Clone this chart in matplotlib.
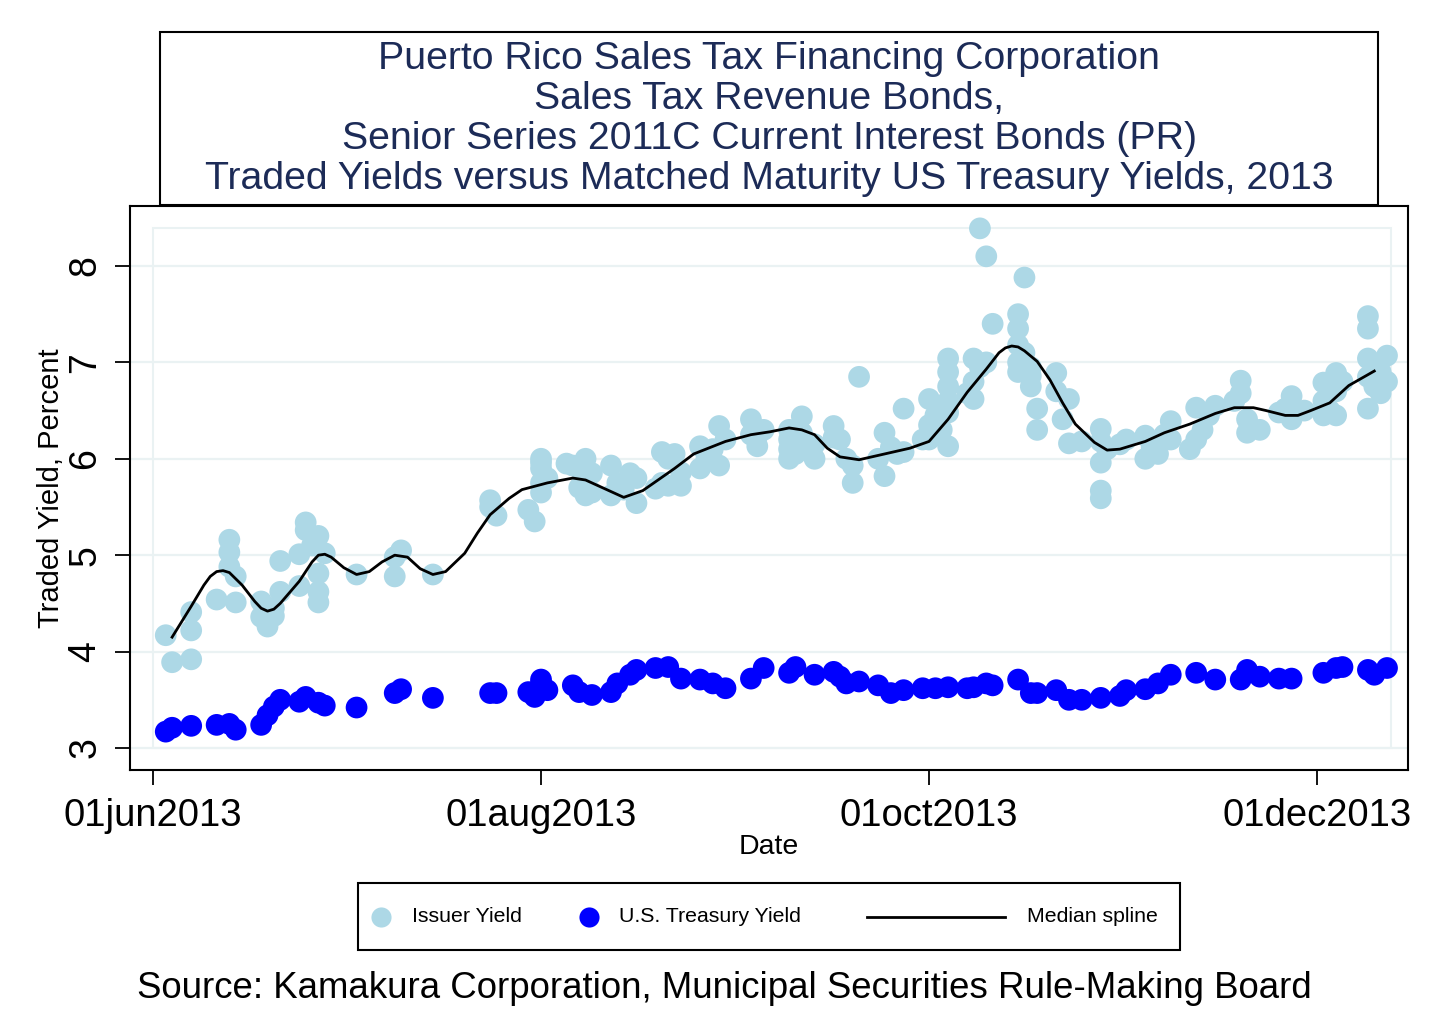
import matplotlib
matplotlib.use('Agg')
import matplotlib.pyplot as plt
import matplotlib.dates as mdates
from matplotlib.patches import Rectangle
from matplotlib.lines import Line2D
import pandas as pd

plt.rcParams['font.family'] = ['Liberation Sans', 'DejaVu Sans']

# issuer traded yields (light blue dots)
issuer_dates = [
    '2013-06-03', '2013-06-04', '2013-06-07', '2013-06-07', '2013-06-07',
    '2013-06-11', '2013-06-13', '2013-06-13', '2013-06-13', '2013-06-14',
    '2013-06-14', '2013-06-18', '2013-06-18', '2013-06-19', '2013-06-20',
    '2013-06-21', '2013-06-21', '2013-06-24', '2013-06-24', '2013-06-25',
    '2013-06-25', '2013-06-27', '2013-06-27', '2013-06-27', '2013-06-27',
    '2013-06-28', '2013-07-03', '2013-07-09', '2013-07-09', '2013-07-10',
    '2013-07-15', '2013-07-24', '2013-07-24', '2013-07-25', '2013-07-30',
    '2013-07-31', '2013-08-01', '2013-08-01', '2013-08-01', '2013-08-01',
    '2013-08-01', '2013-08-06', '2013-08-08', '2013-08-08', '2013-08-09',
    '2013-08-12', '2013-08-13', '2013-08-16', '2013-08-16', '2013-08-19',
    '2013-08-20', '2013-08-21', '2013-08-23', '2013-08-26', '2013-08-27',
    '2013-08-29', '2013-08-29', '2013-09-03', '2013-09-04', '2013-09-04',
    '2013-09-09', '2013-09-09', '2013-09-09', '2013-09-09', '2013-09-11',
    '2013-09-11', '2013-09-13', '2013-09-13', '2013-09-16', '2013-09-17',
    '2013-09-19', '2013-09-19', '2013-09-20', '2013-09-24', '2013-09-24',
    '2013-09-27', '2013-09-27', '2013-09-30', '2013-10-01', '2013-10-01',
    '2013-10-01', '2013-10-04', '2013-10-04', '2013-10-04', '2013-10-04',
    '2013-10-04', '2013-10-04', '2013-10-07', '2013-10-08', '2013-10-08',
    '2013-10-08', '2013-10-09', '2013-10-10', '2013-10-10', '2013-10-11',
    '2013-10-15', '2013-10-15', '2013-10-15', '2013-10-15', '2013-10-15',
    '2013-10-16', '2013-10-17', '2013-10-17', '2013-10-18', '2013-10-18',
    '2013-10-21', '2013-10-22', '2013-10-23', '2013-10-23', '2013-10-25',
    '2013-10-28', '2013-10-28', '2013-10-28', '2013-10-28', '2013-10-28',
    '2013-11-01', '2013-11-04', '2013-11-04', '2013-11-06', '2013-11-08',
    '2013-11-08', '2013-11-11', '2013-11-12', '2013-11-12', '2013-11-15',
    '2013-11-19', '2013-11-19', '2013-11-20', '2013-11-20', '2013-11-25',
    '2013-11-27', '2013-11-27', '2013-12-02', '2013-12-02', '2013-12-02',
    '2013-12-04', '2013-12-04', '2013-12-04', '2013-12-09', '2013-12-09',
    '2013-12-09', '2013-12-09', '2013-12-09', '2013-12-11', '2013-12-12',
    # denser clusters
    '2013-06-20', '2013-06-26', '2013-08-02', '2013-08-05', '2013-08-07',
    '2013-08-07', '2013-08-09', '2013-08-12', '2013-08-14', '2013-08-15',
    '2013-08-20', '2013-08-21', '2013-08-22', '2013-08-23', '2013-08-26',
    '2013-08-28', '2013-08-30', '2013-09-03', '2013-09-05', '2013-09-10',
    '2013-09-12', '2013-09-16', '2013-09-18', '2013-09-23', '2013-09-25',
    '2013-09-26', '2013-10-02', '2013-10-03', '2013-10-03', '2013-10-09',
    '2013-10-16', '2013-10-17', '2013-10-21', '2013-10-29', '2013-10-31',
    '2013-11-05', '2013-11-07', '2013-11-13', '2013-11-14', '2013-11-18',
    '2013-11-22', '2013-11-26', '2013-11-29', '2013-12-03', '2013-12-03',
    '2013-12-05', '2013-12-10', '2013-12-11', '2013-12-12',
]
issuer_yield = [
    4.17, 3.89, 4.22, 4.41, 3.92,
    4.54, 5.16, 5.03, 4.88, 4.78,
    4.51, 4.52, 4.36, 4.26, 4.37,
    4.94, 4.62, 5.01, 4.68, 5.34,
    5.26, 5.20, 4.81, 4.62, 4.51,
    5.02, 4.80, 4.78, 4.98, 5.05,
    4.80, 5.57, 5.50, 5.41, 5.47,
    5.35, 5.96, 6.00, 5.90, 5.75,
    5.65, 5.93, 6.00, 5.62, 5.65,
    5.93, 5.75, 5.80, 5.54, 5.69,
    6.07, 6.00, 5.86, 6.13, 6.00,
    6.34, 5.93, 6.41, 6.13, 6.24,
    6.20, 6.00, 6.10, 6.30, 6.44,
    6.27, 6.00, 6.15, 6.34, 6.20,
    5.75, 5.93, 6.85, 6.27, 5.82,
    6.52, 6.07, 6.20, 6.62, 6.35,
    6.20, 7.04, 6.90, 6.48, 6.13,
    6.60, 6.75, 6.68, 7.04, 6.62,
    6.80, 8.39, 8.10, 7.00, 7.40,
    7.50, 7.35, 7.18, 7.00, 6.90,
    7.88, 6.86, 6.75, 6.52, 6.30,
    6.89, 6.41, 6.62, 6.16, 6.18,
    6.31, 6.18, 5.96, 5.67, 5.59,
    6.20, 6.24, 6.00, 6.05, 6.39,
    6.20, 6.10, 6.53, 6.20, 6.55,
    6.81, 6.68, 6.41, 6.27, 6.48,
    6.65, 6.41, 6.79, 6.45, 6.60,
    6.89, 6.45, 6.70, 7.48, 7.35,
    7.04, 6.52, 6.85, 6.68, 7.07,
    # denser clusters
    4.45, 5.10, 5.80, 5.95, 5.70,
    5.90, 5.85, 5.62, 5.68, 5.85,
    5.75, 5.72, 6.05, 5.72, 5.90,
    6.10, 6.20, 6.25, 6.30, 6.05,
    6.10, 6.22, 6.00, 6.00, 6.12,
    6.05, 6.45, 6.30, 6.55, 6.95,
    7.10, 6.95, 6.70, 6.10, 6.15,
    6.12, 6.25, 6.30, 6.45, 6.60,
    6.30, 6.52, 6.50, 6.70, 6.50,
    6.80, 6.75, 6.90, 6.80,
]

# matched maturity US Treasury yields (blue dots)
treasury_dates = [
    '2013-06-03', '2013-06-04', '2013-06-07', '2013-06-11', '2013-06-13',
    '2013-06-14', '2013-06-18', '2013-06-19', '2013-06-20', '2013-06-21',
    '2013-06-24', '2013-06-25', '2013-06-27', '2013-06-28', '2013-07-03',
    '2013-07-09', '2013-07-10', '2013-07-15', '2013-07-24', '2013-07-25',
    '2013-07-30', '2013-07-31', '2013-08-01', '2013-08-01', '2013-08-02',
    '2013-08-06', '2013-08-07', '2013-08-09', '2013-08-12', '2013-08-13',
    '2013-08-15', '2013-08-16', '2013-08-19', '2013-08-21', '2013-08-23',
    '2013-08-26', '2013-08-28', '2013-08-30', '2013-09-03', '2013-09-05',
    '2013-09-09', '2013-09-10', '2013-09-13', '2013-09-16', '2013-09-17',
    '2013-09-18', '2013-09-20', '2013-09-23', '2013-09-25', '2013-09-27',
    '2013-09-30', '2013-10-02', '2013-10-04', '2013-10-07', '2013-10-08',
    '2013-10-10', '2013-10-11', '2013-10-15', '2013-10-17', '2013-10-18',
    '2013-10-21', '2013-10-23', '2013-10-25', '2013-10-28', '2013-10-31',
    '2013-11-01', '2013-11-04', '2013-11-06', '2013-11-08', '2013-11-12',
    '2013-11-15', '2013-11-19', '2013-11-20', '2013-11-22', '2013-11-25',
    '2013-11-27', '2013-12-02', '2013-12-04', '2013-12-05', '2013-12-09',
    '2013-12-10', '2013-12-12',
]
treasury_yield = [
    3.17, 3.21, 3.23, 3.24, 3.25,
    3.19, 3.24, 3.34, 3.43, 3.50,
    3.48, 3.53, 3.47, 3.44, 3.42,
    3.57, 3.61, 3.52, 3.57, 3.57,
    3.58, 3.53, 3.67, 3.71, 3.60,
    3.65, 3.58, 3.55, 3.58, 3.67,
    3.76, 3.81, 3.83, 3.84, 3.72,
    3.71, 3.67, 3.62, 3.72, 3.83,
    3.78, 3.84, 3.76, 3.79, 3.74,
    3.67, 3.69, 3.65, 3.57, 3.60,
    3.62, 3.62, 3.63, 3.62, 3.63,
    3.67, 3.65, 3.71, 3.57, 3.57,
    3.60, 3.50, 3.50, 3.52, 3.54,
    3.60, 3.61, 3.67, 3.76, 3.78,
    3.71, 3.71, 3.81, 3.74, 3.72,
    3.72, 3.78, 3.83, 3.84, 3.81,
    3.76, 3.83,
]

# median spline as drawn in the chart
spline_dates = [
    '2013-06-04', '2013-06-07', '2013-06-09', '2013-06-10', '2013-06-11',
    '2013-06-12', '2013-06-13', '2013-06-15', '2013-06-17', '2013-06-18',
    '2013-06-19', '2013-06-20', '2013-06-21', '2013-06-24', '2013-06-26',
    '2013-06-27', '2013-06-28', '2013-06-29', '2013-07-01', '2013-07-03',
    '2013-07-05', '2013-07-07', '2013-07-09', '2013-07-11', '2013-07-13',
    '2013-07-15', '2013-07-17', '2013-07-20', '2013-07-22', '2013-07-24',
    '2013-07-27', '2013-07-29', '2013-08-02', '2013-08-06', '2013-08-08',
    '2013-08-11', '2013-08-14', '2013-08-17', '2013-08-22', '2013-08-25',
    '2013-08-30', '2013-09-03', '2013-09-06', '2013-09-09', '2013-09-11',
    '2013-09-13', '2013-09-15', '2013-09-17', '2013-09-20', '2013-09-22',
    '2013-09-26', '2013-09-28', '2013-10-01', '2013-10-04', '2013-10-07',
    '2013-10-10', '2013-10-12', '2013-10-13', '2013-10-14', '2013-10-15',
    '2013-10-16', '2013-10-18', '2013-10-20', '2013-10-22', '2013-10-24',
    '2013-10-27', '2013-10-29', '2013-10-31', '2013-11-04', '2013-11-07',
    '2013-11-11', '2013-11-15', '2013-11-18', '2013-11-21', '2013-11-23',
    '2013-11-26', '2013-11-28', '2013-11-30', '2013-12-03', '2013-12-06',
    '2013-12-10',
]
spline_yield = [
    4.15, 4.47, 4.69, 4.78, 4.83,
    4.84, 4.82, 4.69, 4.52, 4.45,
    4.42, 4.44, 4.50, 4.73, 4.93,
    5.00, 5.01, 4.98, 4.87, 4.80,
    4.83, 4.93, 5.00, 4.98, 4.86,
    4.80, 4.83, 5.02, 5.23, 5.42,
    5.59, 5.68, 5.75, 5.80, 5.78,
    5.69, 5.60, 5.67, 5.90, 6.05,
    6.18, 6.25, 6.28, 6.32, 6.30,
    6.25, 6.11, 6.02, 5.99, 6.02,
    6.08, 6.11, 6.18, 6.41, 6.69,
    6.93, 7.10, 7.15, 7.17, 7.16,
    7.12, 7.01, 6.82, 6.58, 6.36,
    6.17, 6.09, 6.10, 6.18, 6.27,
    6.36, 6.47, 6.53, 6.53, 6.50,
    6.45, 6.45, 6.50, 6.58, 6.76,
    6.91,
]

xticks = ['2013-06-01', '2013-08-01', '2013-10-01', '2013-12-01']
yticks = [3, 4, 5, 6, 7, 8]

title_lines = ['Puerto Rico Sales Tax Financing Corporation',
               'Sales Tax Revenue Bonds,',
               'Senior Series 2011C Current Interest Bonds (PR)',
               'Traded Yields versus Matched Maturity US Treasury Yields, 2013']
source_text = 'Source: Kamakura Corporation, Municipal Securities Rule-Making Board'

issuer_color = '#add8e6'
treasury_color = '#0000ff'
grid_color = '#eaf2f3'
title_color = '#1c2b57'

W, H = 1436, 1027
fig = plt.figure(figsize=(W / 100, H / 100), dpi=100, facecolor='white')
ax = fig.add_axes([130 / W, 1 - 770 / H, (1408 - 130) / W, (770 - 206) / H])

iss_x = pd.to_datetime(issuer_dates)
tsy_x = pd.to_datetime(treasury_dates)
spl_x = pd.to_datetime(spline_dates)

ax.scatter(iss_x, issuer_yield, s=245, color=issuer_color, edgecolors='none', zorder=3)
ax.scatter(tsy_x, treasury_yield, s=245, color=treasury_color, edgecolors='none', zorder=3)
ax.plot(spl_x, spline_yield, color='black', lw=2, zorder=4, solid_joinstyle='round')

start = mdates.date2num(pd.Timestamp('2013-06-01'))
end = mdates.date2num(pd.Timestamp('2013-12-12')) + 0.7
ax.set_xlim(start - 3.62, start + 197.3)
ax.set_ylim(2.772, 8.622)

# plot region border (Stata style inner box)
ax.add_patch(Rectangle((start, 3), end - start, 8.39 - 3, fill=False,
                       edgecolor=grid_color, lw=1.5, zorder=1))
for yv in yticks:
    ax.axhline(yv, color=grid_color, lw=1.6, zorder=1)

tick_pos = pd.to_datetime(xticks)
ax.set_xticks(tick_pos)
ax.set_xticklabels([t.strftime('%d%b%Y').lower() for t in tick_pos], fontsize=27.5)
ax.set_yticks(yticks)
ax.set_yticklabels([str(v) for v in yticks], fontsize=27, rotation=90, va='center')
ax.tick_params(axis='x', length=11, width=1.3, pad=9)
ax.tick_params(axis='y', length=11, width=1.3, pad=8)
for sp in ax.spines.values():
    sp.set_linewidth(1.5)
ax.set_xlabel('Date', fontsize=20.5, labelpad=0)
ax.set_ylabel('Traded Yield, Percent', fontsize=21, labelpad=2)

# title box
fig.patches.append(Rectangle((160 / W, 1 - 205 / H), (1378 - 160) / W, (205 - 32) / H,
                             transform=fig.transFigure, fill=False, edgecolor='black', lw=1.5))
for i, line in enumerate(title_lines):
    fig.text(769 / W, 1 - (59 + 40 * i) / H, line, ha='center', va='center',
             fontsize=28.3, color=title_color)

# legend, drawn by hand to match the original spacing
fig.patches.append(Rectangle((358 / W, 1 - 950 / H), (1180 - 358) / W, (950 - 883) / H,
                             transform=fig.transFigure, fill=False, edgecolor='black', lw=1.5))
ly = 1 - 917 / H
fig.add_artist(Line2D([381 / W], [ly], marker='o', ms=14.5, color=issuer_color, mec='none'))
fig.text(412 / W, ly, 'Issuer Yield', va='center', fontsize=15.3)
fig.add_artist(Line2D([589 / W], [ly], marker='o', ms=14.5, color=treasury_color, mec='none'))
fig.text(619 / W, ly, 'U.S. Treasury Yield', va='center', fontsize=15.3)
fig.add_artist(Line2D([867 / W, 1005 / W], [ly, ly], color='black', lw=2))
fig.text(1027 / W, ly, 'Median spline', va='center', fontsize=15.3)

fig.text(724 / W, 1 - 988 / H, source_text, ha='center', va='center', fontsize=26.4)

fig.savefig('out.png', dpi=100, facecolor='white')
